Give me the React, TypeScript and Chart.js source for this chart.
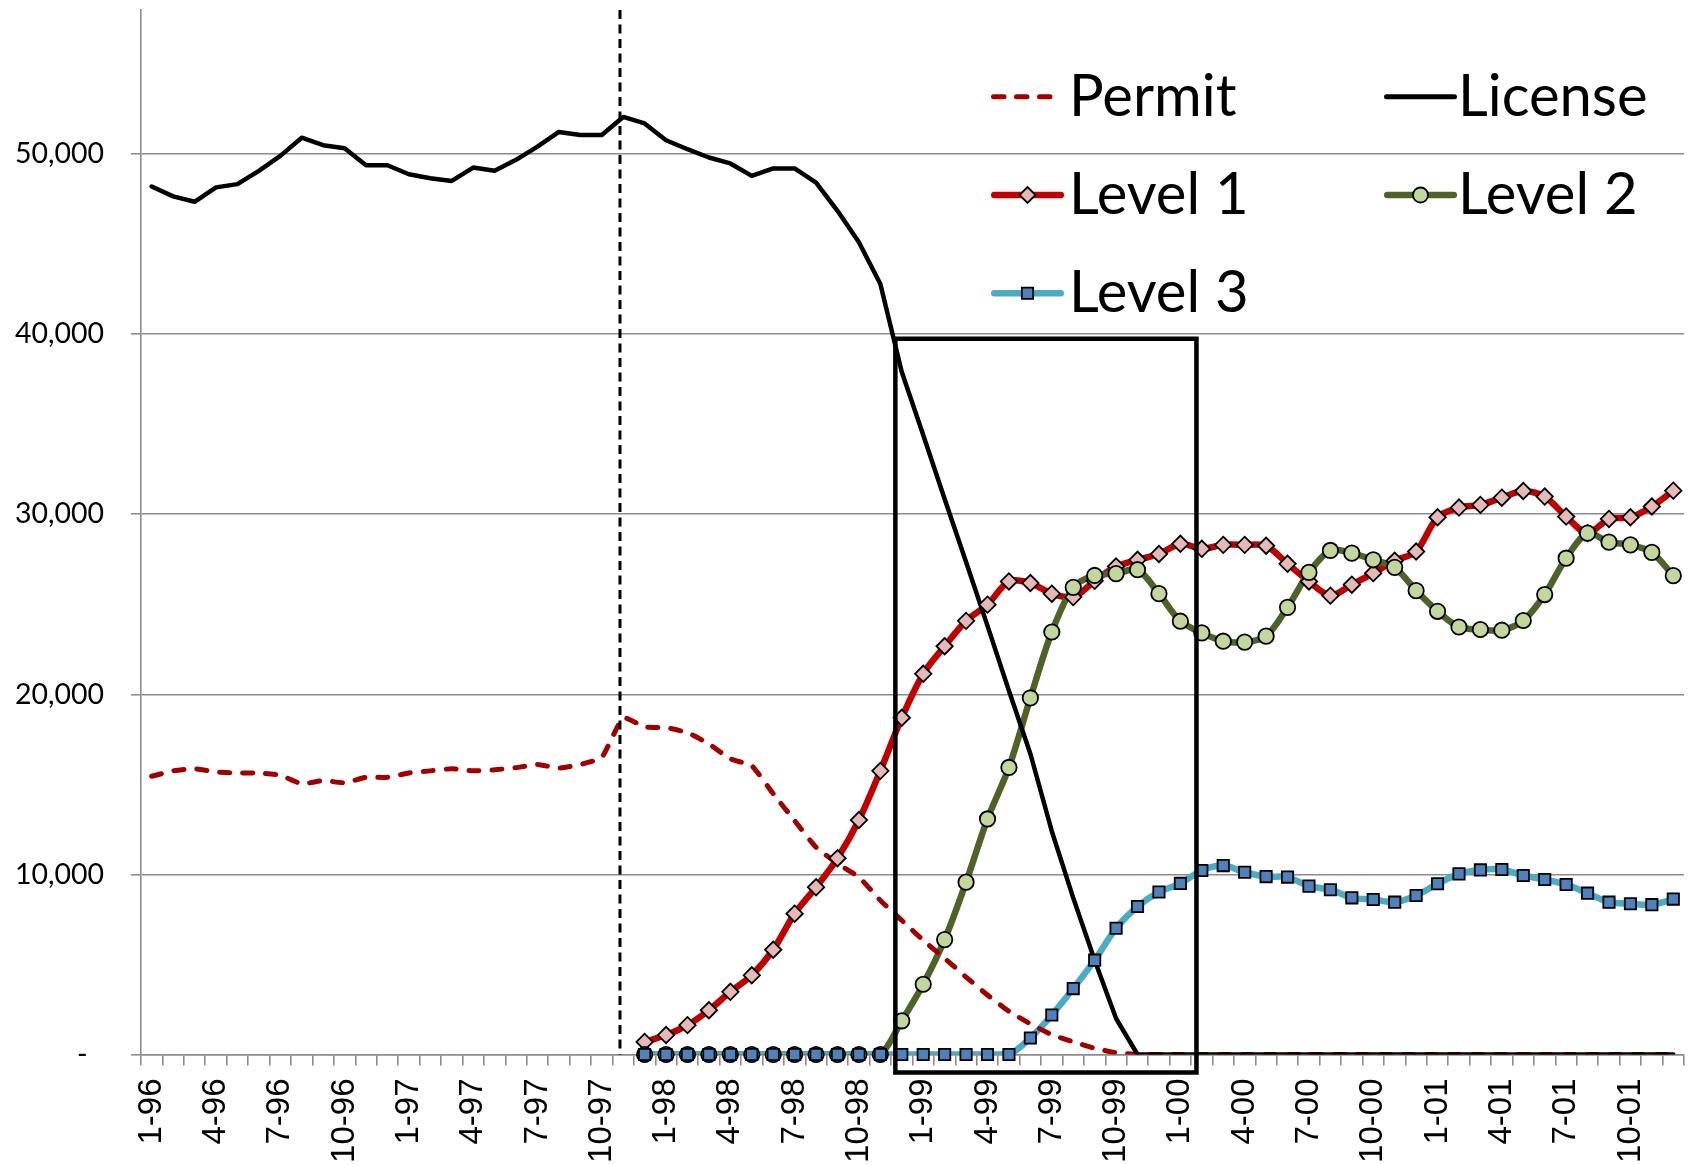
import React, { useEffect, useRef } from 'react';
import { Chart, registerables } from 'chart.js';

Chart.register(...registerables);

// ---------- DATA ----------
const months: string[] = [
  '1-96', '2-96', '3-96', '4-96', '5-96', '6-96', '7-96', '8-96', '9-96', '10-96', '11-96', '12-96',
  '1-97', '2-97', '3-97', '4-97', '5-97', '6-97', '7-97', '8-97', '9-97', '10-97', '11-97', '12-97',
  '1-98', '2-98', '3-98', '4-98', '5-98', '6-98', '7-98', '8-98', '9-98', '10-98', '11-98', '12-98',
  '1-99', '2-99', '3-99', '4-99', '5-99', '6-99', '7-99', '8-99', '9-99', '10-99', '11-99', '12-99',
  '1-00', '2-00', '3-00', '4-00', '5-00', '6-00', '7-00', '8-00', '9-00', '10-00', '11-00', '12-00',
  '1-01', '2-01', '3-01', '4-01', '5-01', '6-01', '7-01', '8-01', '9-01', '10-01', '11-01', '12-01',
];

const seriesNames = ['Permit', 'License', 'Level 1', 'Level 2', 'Level 3'];

const permit: (number | null)[] = [
  15450, 15750, 15870, 15690, 15630, 15630, 15510, 15030, 15210, 15090, 15390, 15390,
  15630, 15750, 15870, 15750, 15810, 15930, 16110, 15900, 16100, 16500, 18700, 18190,
  18150, 17870, 17250, 16420, 16030, 14480, 12980, 11510, 10600, 9850, 8550, 7450,
  6340, 5340, 4300, 3300, 2400, 1700, 1100, 700, 350, 100, 0, 0,
  0, 0, 0, 0, 0, 0, 0, 0, 0, 0, 0, 0,
  0, 0, 0, 0, 0, 0, 0, 0, 0, 0, 0, 0,
];

const license: (number | null)[] = [
  48200, 47650, 47350, 48150, 48330, 49070, 49900, 50910, 50490, 50320, 49380, 49380,
  48880, 48660, 48510, 49250, 49070, 49680, 50410, 51230, 51060, 51060, 52060, 51700,
  50770, 50270, 49810, 49480, 48790, 49200, 49200, 48420, 46850, 45100, 42790, 37900,
  34400, 30850, 27350, 23800, 20200, 16700, 12400, 8700, 5230, 2000, 0, 0,
  0, 0, 0, 0, 0, 0, 0, 0, 0, 0, 0, 0,
  0, 0, 0, 0, 0, 0, 0, 0, 0, 0, 0, 0,
];

const level1: (number | null)[] = [
  null, null, null, null, null, null, null, null, null, null, null, null,
  null, null, null, null, null, null, null, null, null, null, null, 700,
  1080, 1630, 2460, 3480, 4400, 5820, 7820, 9290, 10900, 13020, 15750, 18700,
  21140, 22670, 24080, 24980, 26270, 26180, 25590, 25400, 26300, 27100, 27470, 27790,
  28360, 28080, 28300, 28300, 28250, 27250, 26270, 25480, 26090, 26730, 27420, 27930,
  29830, 30370, 30520, 30920, 31290, 30980, 29870, 28950, 29740, 29830, 30430, 31310,
];

const level2: (number | null)[] = [
  null, null, null, null, null, null, null, null, null, null, null, null,
  null, null, null, null, null, null, null, null, null, null, null, 0,
  0, 0, 0, 0, 0, 0, 0, 0, 0, 0, 0, 1870,
  3900, 6380, 9570, 13080, 15940, 19800, 23460, 25940, 26600, 26700, 26920, 25590,
  24060, 23410, 22950, 22900, 23230, 24830, 26770, 27990, 27840, 27470, 27050, 25760,
  24610, 23740, 23600, 23560, 24100, 25540, 27560, 28950, 28450, 28300, 27880, 26590,
];

const level3: (number | null)[] = [
  null, null, null, null, null, null, null, null, null, null, null, null,
  null, null, null, null, null, null, null, null, null, null, null, 0,
  0, 0, 0, 0, 0, 0, 0, 0, 0, 0, 0, 0,
  0, 0, 0, 0, 0, 920, 2190, 3660, 5240, 7010, 8220, 9020,
  9500, 10220, 10490, 10120, 9880, 9850, 9350, 9150, 8700, 8610, 8460, 8830,
  9480, 10030, 10250, 10270, 9940, 9720, 9440, 8960, 8460, 8370, 8320, 8630,
];

const yTickValues = [0, 10000, 20000, 30000, 40000, 50000];
const yMax = 58000;

// annotation positions, in data units (category index / value)
const changeMonth = 21.85;
const boxMonths = [34.7, 48.75];
const boxValues = [-1000, 39750];

// ---------- STYLES ----------
const C = {
  permit: '#A00000',
  license: '#000000',
  l1: '#C00000',
  l1Fill: '#E6B9B8',
  l2: '#4F6228',
  l2Fill: '#C3D69B',
  l3: '#4BACC6',
  l3Fill: '#4F81BD',
  grid: '#8c8c8c',
};

function drawMarker(ctx: CanvasRenderingContext2D, style: string, x: number, y: number, r: number, fill: string) {
  ctx.save();
  ctx.beginPath();
  if (style === 'circle') {
    ctx.arc(x, y, r, 0, Math.PI * 2);
  } else if (style === 'rectRot') {
    ctx.moveTo(x, y - r);
    ctx.lineTo(x + r, y);
    ctx.lineTo(x, y + r);
    ctx.lineTo(x - r, y);
    ctx.closePath();
  } else {
    const s = r * Math.SQRT1_2;
    ctx.rect(x - s, y - s, 2 * s, 2 * s);
  }
  ctx.fillStyle = fill;
  ctx.fill();
  ctx.lineWidth = 1.8;
  ctx.strokeStyle = '#000';
  ctx.setLineDash([]);
  ctx.stroke();
  ctx.restore();
}

const legendPlugin = {
  id: 'customLegend',
  afterDraw(chart: any) {
    const ctx: CanvasRenderingContext2D = chart.ctx;
    const items = [
      { name: seriesNames[0], col: 0, row: 0, color: C.permit, width: 5, dash: [10.5, 12.5], marker: null, fill: '' },
      { name: seriesNames[1], col: 1, row: 0, color: C.license, width: 5, dash: [], marker: null, fill: '' },
      { name: seriesNames[2], col: 0, row: 1, color: C.l1, width: 6.5, dash: [], marker: 'rectRot', fill: C.l1Fill },
      { name: seriesNames[3], col: 1, row: 1, color: C.l2, width: 6.5, dash: [], marker: 'circle', fill: C.l2Fill },
      { name: seriesNames[4], col: 0, row: 2, color: C.l3, width: 6.5, dash: [], marker: 'rect', fill: C.l3Fill },
    ];
    const colX = [991, 1384];
    const rowY = [96.7, 195, 293.3];
    ctx.save();
    for (const it of items) {
      const x0 = colX[it.col];
      const y = rowY[it.row];
      const x1 = x0 + (it.dash.length ? 63 : 73);
      ctx.beginPath();
      ctx.strokeStyle = it.color;
      ctx.lineWidth = it.width;
      ctx.lineCap = 'round';
      ctx.setLineDash(it.dash);
      ctx.moveTo(x0 + it.width / 2, y);
      ctx.lineTo(x1 - it.width / 2, y);
      ctx.stroke();
      ctx.setLineDash([]);
      if (it.marker) {
        drawMarker(ctx, it.marker, (x0 + x1) / 2, y, it.marker === 'circle' ? 7.5 : 8, it.fill);
      }
      ctx.fillStyle = '#000';
      ctx.font = '58px Lato';
      ctx.textBaseline = 'alphabetic';
      ctx.textAlign = 'left';
      ctx.fillText(it.name, x0 + (it.col === 0 ? 78 : 74), y + 18.8);
    }
    ctx.restore();
  },
};

const annotationPlugin = {
  id: 'annotations',
  afterDatasetsDraw(chart: any) {
    const { ctx, scales, chartArea } = chart;
    const xs = scales.x;
    const ys = scales.y;
    ctx.save();
    // vertical dashed marker
    const vx = xs.getPixelForValue(changeMonth);
    ctx.beginPath();
    ctx.strokeStyle = '#000';
    ctx.lineWidth = 3;
    ctx.setLineDash([9, 5.5]);
    ctx.lineCap = 'butt';
    ctx.moveTo(vx, chartArea.top);
    ctx.lineTo(vx, chartArea.bottom);
    ctx.stroke();
    // highlight box
    ctx.setLineDash([]);
    ctx.lineWidth = 4.5;
    ctx.lineJoin = 'miter';
    const bx0 = xs.getPixelForValue(boxMonths[0]);
    const bx1 = xs.getPixelForValue(boxMonths[1]);
    const by0 = ys.getPixelForValue(boxValues[0]);
    const by1 = ys.getPixelForValue(boxValues[1]);
    ctx.beginPath();
    ctx.rect(bx0, by1, bx1 - bx0, by0 - by1);
    ctx.stroke();
    ctx.restore();
  },
};

export default function App() {
  const ref = useRef<HTMLCanvasElement | null>(null);

  useEffect(() => {
    document.body.style.margin = '0';
    const canvas = ref.current;
    if (!canvas) return;

    const lineBase = {
      pointRadius: 0,
      pointHoverRadius: 0,
      fill: false,
      borderJoinStyle: 'round' as const,
      borderCapStyle: 'round' as const,
    };
    const markerBase = {
      showLine: false,
      clip: false as const,
      pointBorderColor: '#000',
      pointBorderWidth: 1.8,
      pointHoverRadius: 0,
    };

    const chart = new Chart(canvas, {
      type: 'line',
      data: {
        labels: months,
        datasets: [
          { ...markerBase, label: seriesNames[4] + ' markers', data: level3, pointStyle: 'rect', pointRadius: 8, pointBackgroundColor: C.l3Fill, borderColor: C.l3 },
          { ...markerBase, label: seriesNames[3] + ' markers', data: level2, pointStyle: 'circle', pointRadius: 7.7, pointBackgroundColor: C.l2Fill, borderColor: C.l2 },
          { ...markerBase, label: seriesNames[2] + ' markers', data: level1, pointStyle: 'rectRot', pointRadius: 8.2, pointBackgroundColor: C.l1Fill, borderColor: C.l1 },
          { ...lineBase, label: seriesNames[1], data: license, borderColor: C.license, borderWidth: 4.5, tension: 0 },
          { ...lineBase, label: seriesNames[0], data: permit, borderColor: C.permit, borderWidth: 5, borderDash: [10, 13], tension: 0.15 },
          { ...lineBase, label: seriesNames[4], data: level3, borderColor: C.l3, borderWidth: 6.5, tension: 0.3 },
          { ...lineBase, label: seriesNames[3], data: level2, borderColor: C.l2, borderWidth: 6.5, tension: 0.3 },
          { ...lineBase, label: seriesNames[2], data: level1, borderColor: C.l1, borderWidth: 6.5, tension: 0.3 },
        ],
      },
      options: {
        animation: false,
        responsive: false,
        devicePixelRatio: 1,
        events: [],
        layout: { padding: { left: 0, top: 8, right: 9, bottom: 0 } },
        plugins: {
          legend: { display: false },
          tooltip: { enabled: false },
          title: { display: false },
        },
        scales: {
          x: {
            type: 'category',
            offset: true,
            grid: {
              offset: true,
              drawOnChartArea: false,
              drawTicks: true,
              tickLength: 11,
              color: C.grid,
              lineWidth: 1.6,
            },
            border: { color: C.grid, width: 1.6 },
            ticks: {
              autoSkip: false,
              minRotation: 90,
              maxRotation: 90,
              padding: 13,
              color: '#000',
              font: { family: 'Liberation Sans', size: 33 },
              callback: (_v: any, i: number) => (i % 3 === 0 ? months[i] : ''),
            },
            afterFit: (s: any) => {
              s.height = 110.5;
              s.paddingLeft = 0;
              s.paddingRight = 0;
            },
          },
          y: {
            type: 'linear',
            min: 0,
            max: yMax,
            afterBuildTicks: (s: any) => {
              s.ticks = yTickValues.map((v) => ({ value: v }));
            },
            grid: {
              color: C.grid,
              lineWidth: 1.6,
              tickLength: 10,
              drawTicks: true,
            },
            border: { color: C.grid, width: 1.6 },
            ticks: {
              padding: 27,
              color: '#000',
              font: { family: 'Lato', size: 28.5 },
              callback: (v: any) => (Number(v) === 0 ? '-\u2007' : Number(v).toLocaleString('en-US')),
            },
            afterFit: (s: any) => {
              s.width = 141;
              s.paddingTop = 0;
              s.paddingBottom = 0;
            },
          },
        },
      },
      plugins: [annotationPlugin, legendPlugin],
    } as any);

    return () => chart.destroy();
  }, []);

  return (
    <div style={{ position: 'absolute', left: 0, top: 0, width: 1694, height: 1165, background: '#fff' }}>
      <canvas ref={ref} width={1694} height={1165} style={{ display: 'block', width: 1694, height: 1165 }} />
    </div>
  );
}
